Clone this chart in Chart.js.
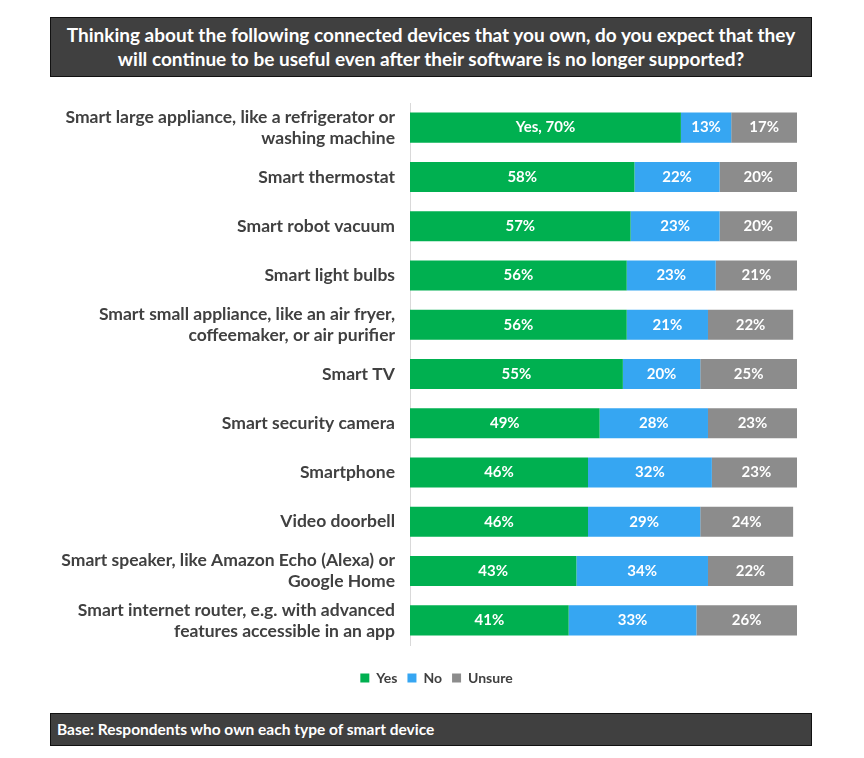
<!DOCTYPE html>
<html>
<head>
<meta charset="utf-8">
<script src="https://cdn.jsdelivr.net/npm/chart.js@4"></script>
<style>
  body { margin: 0; background: #fff; font-family: Lato, sans-serif; }
  .box {
    position: absolute; left: 50px; width: 762px;
    background: #404040; border: 1px solid #111; color: #fff;
    font-weight: bold; box-sizing: border-box;
  }
  #title { top: 17px; height: 60px; font-size: 19px; line-height: 24px; text-align: center; padding-top: 5px; }
  #footer { top: 713px; height: 33px; font-size: 15.5px; line-height: 31px; padding-left: 6px; }
  #wrap { position: absolute; left: 0; top: 90px; width: 864px; height: 613px; }
</style>
</head>
<body>
<div id="title" class="box">Thinking about the following connected devices that you own, do you expect that they<br>will continue to be useful even after their software is no longer supported?</div>
<div id="wrap"><canvas id="myChart"></canvas></div>
<div id="footer" class="box">Base: Respondents who own each type of smart device</div>
<script>
const devices = [
  ["Smart large appliance, like a refrigerator or", "washing machine"],
  "Smart thermostat",
  "Smart robot vacuum",
  "Smart light bulbs",
  ["Smart small appliance, like an air fryer,", "coffeemaker, or air purifier"],
  "Smart TV",
  "Smart security camera",
  "Smartphone",
  "Video doorbell",
  ["Smart speaker, like Amazon Echo (Alexa) or", "Google Home"],
  ["Smart internet router, e.g. with advanced", "features accessible in an app"],
];
const yes = [70, 58, 57, 56, 56, 55, 49, 46, 46, 43, 41];
const no = [13, 22, 23, 23, 21, 20, 28, 32, 29, 34, 33];
const unsure = [17, 20, 20, 21, 22, 25, 23, 23, 24, 22, 26];

const barLabels = {
  id: "barLabels",
  afterDatasetsDraw(chart) {
    const ctx = chart.ctx;
    ctx.save();
    ctx.fillStyle = "#fff";
    ctx.font = "bold 15px Lato";
    ctx.textAlign = "center";
    ctx.textBaseline = "middle";
    chart.data.datasets.forEach((ds, di) => {
      chart.getDatasetMeta(di).data.forEach((bar, i) => {
        let txt = ds.data[i] + "%";
        if (di === 0 && i === 0) txt = "Yes, " + txt;
        const x = (bar.base + bar.x) / 2;
        ctx.fillText(txt, x, bar.y);
      });
    });
    ctx.restore();
  },
};

// nudge the legend to the right so it sits under the middle of the page
const legendShift = {
  id: "legendShift",
  afterLayout(chart) {
    chart.legend.left += 38;
    chart.legend.right += 38;
  },
};

new Chart(document.getElementById("myChart"), {
  type: "bar",
  data: {
    labels: devices,
    datasets: [
      { label: "Yes", data: yes, backgroundColor: "#00b050" },
      { label: "No", data: no, backgroundColor: "#36a6f2" },
      { label: "Unsure", data: unsure, backgroundColor: "#8c8c8c" },
    ],
  },
  options: {
    indexAxis: "y",
    responsive: true,
    maintainAspectRatio: false,
    animation: false,
    categoryPercentage: 1,
    barPercentage: 0.61,
    layout: { padding: { top: 13, right: 67, bottom: 8, left: 0 } },
    scales: {
      x: {
        stacked: true, min: 0, max: 100,
        grid: { display: false },
        border: { display: false },
        ticks: { display: false },
        afterFit(scale) { scale.height = 16; },
      },
      y: {
        stacked: true,
        grid: { display: false },
        border: { display: true, color: "#d9d9d9" },
        ticks: { color: "#404040", font: { family: "Lato", size: 17.5, weight: "bold" }, padding: 7 },
        afterFit(scale) {
          scale.width = 410;
          scale.paddingTop = 0;
          scale.paddingBottom = 0;
        },
      },
    },
    plugins: {
      legend: {
        position: "bottom",
        labels: {
          boxWidth: 9, boxHeight: 9, padding: 10,
          color: "#404040", font: { family: "Lato", size: 14, weight: "bold" },
        },
      },
      tooltip: { enabled: false },
    },
  },
  plugins: [barLabels, legendShift],
});
</script>
</body>
</html>
